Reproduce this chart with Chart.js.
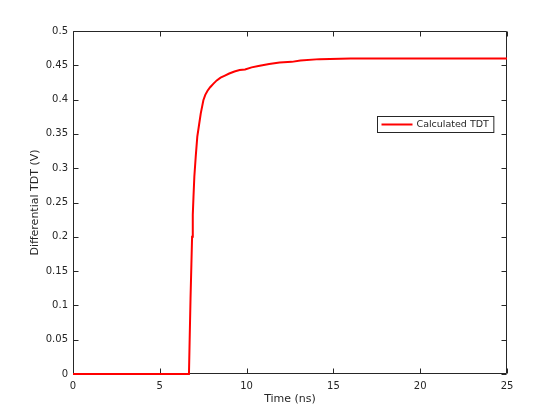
<!DOCTYPE html>
<html>
<head>
<meta charset="utf-8">
<script src="https://cdn.jsdelivr.net/npm/chart.js@4/dist/chart.umd.min.js"></script>
<style>
html,body{margin:0;padding:0;background:#fff;}
#c{display:block;}
</style>
</head>
<body>
<canvas id="c" width="560" height="420"></canvas>
<script>
// ---- data ----
const timeNs = [0, 6.68, 6.72, 6.77, 6.82, 6.86, 6.90, 6.94, 6.99, 7.07, 7.16, 7.26, 7.36, 7.51, 7.62, 7.75, 7.90, 8.08, 8.28, 8.50, 8.75, 9.00, 9.30, 9.60, 9.91, 10.29, 10.68, 11.3, 11.9, 12.6, 13.1, 14.2, 16.0, 25.0];
const tdtVolts = [0, 0, 0.05, 0.11, 0.16, 0.20, 0.232, 0.258, 0.288, 0.317, 0.346, 0.363, 0.380, 0.399, 0.407, 0.413, 0.418, 0.423, 0.428, 0.432, 0.435, 0.438, 0.441, 0.443, 0.444, 0.447, 0.449, 0.452, 0.454, 0.455, 0.457, 0.459, 0.460, 0.460];
const seriesName = 'Calculated TDT';
const xTickLabels = ['0', '5', '10', '15', '20', '25'];
const yTickLabels = ['0', '0.05', '0.1', '0.15', '0.2', '0.25', '0.3', '0.35', '0.4', '0.45', '0.5'];
const xTitle = 'Time (ns)';
const yTitle = 'Differential TDT (V)';

const points = timeNs.map((t, i) => ({x: t, y: tdtVolts[i]}));
const axisColor = '#262626';
const fontFamily = '"DejaVu Sans", sans-serif';

const boxPlugin = {
  id: 'matlabBox',
  beforeDraw(chart) {
    const ctx = chart.ctx;
    ctx.save();
    ctx.fillStyle = '#fff';
    ctx.fillRect(0, 0, chart.width, chart.height);
    ctx.restore();
  },
  beforeDatasetsDraw(chart) {
    const {ctx, chartArea: a, scales} = chart;
    ctx.save();
    ctx.strokeStyle = axisColor;
    ctx.lineWidth = 1;
    const L = Math.round(a.left) + 0.5, R = Math.round(a.right) - 0.5;
    const T = Math.round(a.top) + 0.5, B = Math.round(a.bottom) - 0.5;
    ctx.beginPath();
    ctx.rect(L, T, R - L, B - T);
    const tl = 5;
    scales.x.ticks.forEach(tk => {
      const px = Math.round(scales.x.getPixelForValue(tk.value)) + 0.5;
      ctx.moveTo(px, B); ctx.lineTo(px, B - tl);
      ctx.moveTo(px, T); ctx.lineTo(px, T + tl);
    });
    scales.y.ticks.forEach(tk => {
      const py = Math.round(scales.y.getPixelForValue(tk.value)) + 0.5;
      ctx.moveTo(L, py); ctx.lineTo(L + tl, py);
      ctx.moveTo(R, py); ctx.lineTo(R - tl, py);
    });
    ctx.stroke();
    ctx.restore();
  },
  afterDatasetsDraw(chart) {
    const ctx = chart.ctx;
    ctx.save();
    const ds = chart.data.datasets[0];
    ctx.font = '9.5px ' + fontFamily;
    const tw = ctx.measureText(ds.label).width;
    const lx = 377.5, ly = 116.5, lh = 16;
    const lw = 4 + 31 + 4 + tw + 5;
    ctx.fillStyle = '#fff';
    ctx.fillRect(lx, ly, lw, lh);
    ctx.strokeStyle = axisColor;
    ctx.lineWidth = 1;
    ctx.strokeRect(lx, ly, lw, lh);
    ctx.beginPath();
    ctx.strokeStyle = ds.borderColor;
    ctx.lineWidth = 2;
    ctx.moveTo(lx + 4, ly + lh / 2); ctx.lineTo(lx + 35, ly + lh / 2);
    ctx.stroke();
    ctx.fillStyle = axisColor;
    ctx.textBaseline = 'middle';
    ctx.textAlign = 'left';
    ctx.fillText(ds.label, lx + 39, ly + lh / 2 + 0.5);
    ctx.restore();
  }
};

new Chart(document.getElementById('c'), {
  type: 'line',
  data: {
    datasets: [{
      label: seriesName,
      data: points,
      borderColor: '#ff0000',
      backgroundColor: '#ff0000',
      borderWidth: 2,
      pointRadius: 0,
      tension: 0,
      fill: false,
      clip: 3
    }]
  },
  options: {
    responsive: false,
    animation: false,
    devicePixelRatio: 1,
    layout: {padding: {left: 0, right: 53, top: 31, bottom: 0}},
    plugins: {legend: {display: false}, tooltip: {enabled: false}},
    scales: {
      x: {
        type: 'linear', min: 0, max: 25,
        grid: {display: false, drawTicks: false},
        border: {display: false},
        ticks: {
          stepSize: 5, padding: 6, color: axisColor, maxRotation: 0,
          font: {family: fontFamily, size: 10},
          callback: (v, i) => xTickLabels[i]
        },
        title: {display: true, text: xTitle, color: axisColor,
          font: {family: fontFamily, size: 11}, padding: {top: 0, bottom: 14}},
        afterFit(s) { s.height = 46; }
      },
      y: {
        type: 'linear', min: 0, max: 0.5,
        grid: {display: false, drawTicks: false},
        border: {display: false},
        ticks: {
          stepSize: 0.05, padding: 5, color: axisColor,
          font: {family: fontFamily, size: 10},
          callback: (v, i) => yTickLabels[i]
        },
        title: {display: true, text: yTitle, color: axisColor,
          font: {family: fontFamily, size: 11}, padding: {top: 29, bottom: 0}},
        afterFit(s) { s.width = 73; }
      }
    }
  },
  plugins: [boxPlugin]
});
</script>
</body>
</html>
